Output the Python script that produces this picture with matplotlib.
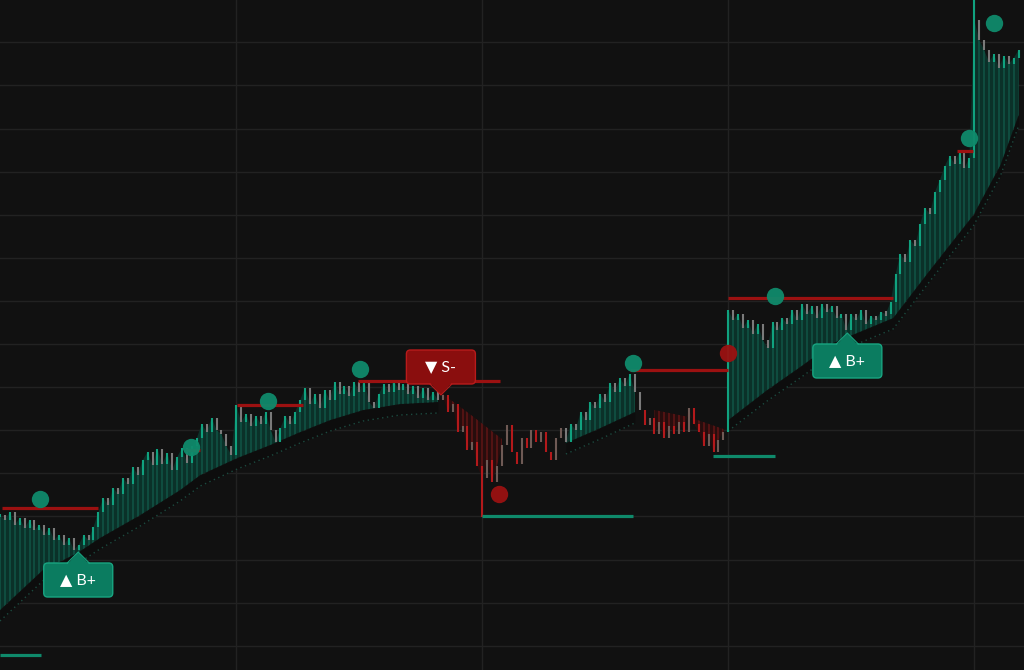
import matplotlib
matplotlib.use("Agg")
import matplotlib.pyplot as plt
import matplotlib.transforms as mtransforms
from matplotlib.patches import FancyBboxPatch, Polygon
import numpy as np

# closing price of each bar
close = [
    155, 150, 158, 145, 152, 142, 150, 140, 145, 135,
    142, 130, 135, 125, 132, 120, 125, 135, 130, 143,
    158, 172, 165, 182, 176, 192, 186, 203, 195, 210,
    218, 205, 221, 206, 217, 200, 213, 222, 207, 224,
    232, 246, 238, 252, 240, 236, 224, 215, 265, 248,
    256, 244, 254, 246, 258, 240, 228, 242, 254, 246,
    258, 270, 282, 266, 276, 262, 280, 270, 288, 276,
    284, 274, 288, 278, 290, 268, 262, 276, 286, 278,
    290, 280, 286, 276, 284, 272, 282, 270, 278, 270,
    275, 258, 266, 238, 244, 220, 228, 204, 192, 210,
    188, 204, 225, 245, 218, 206, 232, 222, 240, 228,
    238, 218, 210, 232, 242, 228, 246, 240, 258, 250,
    268, 262, 276, 268, 287, 278, 292, 284, 296, 278,
    260, 245, 252, 236, 248, 232, 244, 236, 248, 238,
    262, 246, 238, 224, 236, 218, 230, 238, 360, 350,
    356, 342, 350, 336, 346, 330, 322, 348, 340, 352,
    346, 360, 350, 366, 356, 364, 352, 366, 358, 364,
    352, 356, 340, 356, 350, 360, 346, 354, 350, 358,
    356, 368, 396, 416, 408, 430, 424, 446, 462, 456,
    478, 490, 504, 514, 506, 518, 502, 512, 650, 630,
    620, 608, 616, 602, 614, 606, 612, 620,
]
# long wicks
wick_bars = [98, 198]
wick_ends = [153, 670]

# trend regime: first bar of each regime and its direction
trend_starts = [0, 90, 115, 131, 148]
trend_dirs = [1, -1, 1, -1, 1]

# trailing stop per filled segment (first bar, last bar, direction, anchors)
seg_first = [0, 90, 115, 133, 148]
seg_last = [89, 102, 129, 147, 207]
seg_dir = [1, -1, 1, -1, 1]
trail_x = [
    [0, 8.7, 15.7, 20.3, 28.5, 36.6, 40.7, 48.2, 54.9, 61, 67.1, 73.8, 81.3, 89],
    [90, 96, 102],
    [115, 122, 129],
    [133, 140, 147],
    [148, 155.9, 162.6, 169.3, 172.2, 181.5, 189, 197.8, 203.3, 207],
]
trail_y = [
    [60, 100, 117, 132, 155, 180, 195, 212, 225, 238, 250, 260, 266, 268],
    [276, 254, 231],
    [227, 242, 258],
    [260, 253, 241],
    [250, 280, 303, 327, 333, 352, 400, 455, 505, 555],
]

# horizontal levels
res_start = [0.4, 37.6, 48.2, 72.8, 128.0, 148.0, 194.5]
res_end = [19.9, 40.7, 61.6, 101.6, 148.0, 181.5, 197.8]
res_level = [162, 220, 265, 289, 300, 372, 519]
sup_start = [0, 98.0, 144.9]
sup_end = [8.3, 128.7, 157.5]
sup_level = [15, 154, 214]

# dots
up_dot_x = [8.1, 38.8, 54.5, 73.2, 128.7, 157.5, 197.0, 202.0]
up_dot_y = [171, 223, 269, 301, 307, 374, 532, 647]
dn_dot_x = [101.4, 148.0]
dn_dot_y = [176, 317]

# signal labels
label_x = [15.9, 89.6, 172.2]
label_y = [118, 275, 337]
label_text = ["▲ B+", "▼ S-", "▲ B+"]
label_dir = [1, -1, 1]

BG = "#111111"
TEAL = "#0f8a6b"
RED = "#9c1111"

plt.rcParams['font.family'] = ['Lato', 'DejaVu Sans']

fig = plt.figure(figsize=(10.24, 6.70), dpi=100, facecolor=BG)
ax = fig.add_axes([0, 0, 1, 1])
ax.set_facecolor(BG)
ax.set_xlim(0, 208.1)
ax.set_ylim(0, 670)
for s in ax.spines.values():
    s.set_visible(False)
ax.set_xticks([48, 98, 148, 198])
ax.set_yticks(627.7 - 43.1 * np.arange(15))
ax.tick_params(length=0, labelbottom=False, labelleft=False)
ax.grid(True, color="#222222", lw=1)
ax.set_axisbelow(True)

x = np.arange(len(close))
c = np.array(close, dtype=float)
o = np.r_[c[0], c[:-1]]

# filled areas between price and trailing stop
for s, e, d, tx, ty in zip(seg_first, seg_last, seg_dir, trail_x, trail_y):
    tx = np.array(tx, dtype=float)
    ty = np.array(ty, dtype=float)
    verts = list(zip(x[s:e + 1], c[s:e + 1])) + list(zip(tx[::-1], ty[::-1]))
    if d > 0:
        face, stripe, far = "#0b3129", "#104d40", -10
    else:
        face, stripe, far = "#270d0d", "#541414", 700
    poly = Polygon(verts, closed=True, fc=face, ec="none", zorder=2)
    ax.add_patch(poly)
    lc = ax.vlines(x[s:e + 1], c[s:e + 1], far, colors=stripe, lw=1.4, zorder=2.5)
    lc.set_clip_path(poly)
    if d > 0:
        ax.fill_between(tx, ty - 11, ty, color="#0d0d0d", lw=0, zorder=2)
        ax.plot(tx, ty - 11, color="#1c4a3f", lw=1, ls=(0, (1, 2.5)), zorder=2.6)

# bars
trend = np.ones(len(c))
for s, d in zip(trend_starts, trend_dirs):
    trend[s:] = d
rising = c >= o
colors = np.where(rising,
                  np.where(trend > 0, "#10a27f", "#6f5a55"),
                  np.where(trend > 0, "#7a7a7a", "#b3191b"))
lo = np.minimum(o, c)
hi = np.maximum(o, c)
flat = hi - lo < 3
lo[flat] -= 1.5
hi[flat] += 1.5
ax.vlines(x, lo, hi, colors=colors, lw=1.5, zorder=4)
ax.vlines(wick_bars, c[wick_bars], wick_ends, colors=colors[wick_bars], lw=1.5, zorder=4)

# levels
ax.hlines(res_level, res_start, res_end, colors=RED, lw=2.3, zorder=5)
ax.hlines(sup_level, sup_start, sup_end, colors=TEAL, lw=2.3, zorder=5)

# dots
ax.plot(up_dot_x, up_dot_y, "o", ms=12.5, color=TEAL, mec="none", alpha=0.95, zorder=6)
ax.plot(dn_dot_x, dn_dot_y, "o", ms=12.5, color="#9a1111", mec="none", alpha=0.95, zorder=6)

# labels
for bx, by, txt, d in zip(label_x, label_y, label_text, label_dir):
    trans = mtransforms.Affine2D().scale(fig.dpi / 100) + mtransforms.ScaledTranslation(bx, by, ax.transData)
    if d > 0:
        face, edge = "#0b7c60", "#18a581"
    else:
        face, edge = "#8a0e0e", "#b81b1b"
    gap, h, w = 11, 34, 69
    y0 = -gap - h if d > 0 else gap
    yb = -gap if d > 0 else gap
    box = FancyBboxPatch((-w / 2, y0), w, h, boxstyle="round,pad=0,rounding_size=4",
                         fc=face, ec=edge, lw=1, transform=trans, zorder=8)
    ax.add_patch(box)
    inset = -1.5 if d > 0 else 1.5
    tri = Polygon([(0, 0), (-11, yb + inset), (11, yb + inset)], closed=True,
                  fc=face, ec="none", transform=trans, zorder=9)
    ax.add_patch(tri)
    ax.plot([-11, 0, 11], [yb, 0, yb], color=edge, lw=0.8, transform=trans, zorder=9)
    ax.text(0, y0 + h / 2, txt, transform=trans, ha="center", va="center",
            color="white", fontsize=11.5, zorder=10)

fig.savefig("out.png", dpi=100, facecolor=BG)
